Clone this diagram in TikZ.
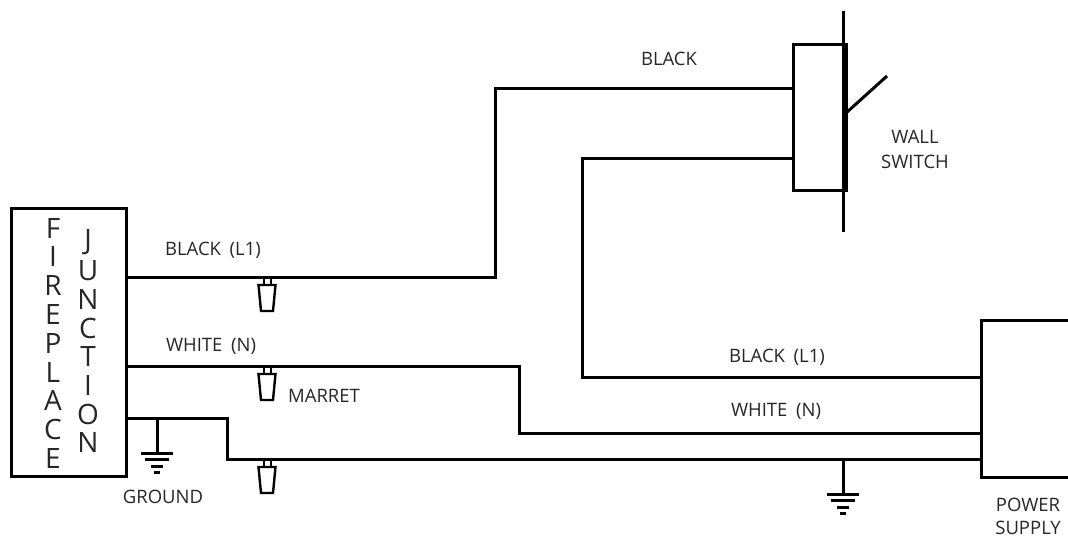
\documentclass[tikz,border=0pt]{standalone}
\usepackage{fontspec}
\setmainfont[WordSpace=1.8]{Open Sans}
\tikzset{
  wire/.style={line width=3pt, line join=miter},
  lbl/.style={inner sep=0pt, font=\fontsize{18.5}{18.5}\selectfont, text=black!85},
  bigletter/.style={inner sep=0pt, font=\fontsize{28}{28}\selectfont, text=black!85},
  marret/.pic={
    \draw[line width=2pt] (-3.5,0)--(-3.5,8) (3.5,0)--(3.5,8);
    \draw[line width=2.4pt] (-8.5,8)--(8.5,8)--(6,34)--(-6,34)--cycle;
  },
  groundmark/.pic={
    \draw[line width=3pt] (-16,0)--(16,0);
    \draw[line width=3pt] (-12,6)--(12,6);
    \draw[line width=3pt] (-6,13)--(6,13);
    \draw[line width=3pt] (-3,19)--(3,19);
  }
}
\begin{document}
\begin{tikzpicture}[x=1pt,y=-1pt]
\useasboundingbox (0,0) rectangle (1068,539);

% boxes
\coordinate (F1) at (11,208);
\coordinate (F2) at (126,476);
\draw[wire] (F1) rectangle (F2);
\coordinate (S1) at (793,44);
\coordinate (S2) at (846,190);
\draw[wire] (S1) rectangle (S2);
\coordinate (P1) at (1068,320);
\coordinate (P2) at (981,320);
\coordinate (P3) at (981,477);
\coordinate (P4) at (1068,477);
\draw[wire] (P1)--(P2)--(P3)--(P4);

% wall switch
\coordinate (T1) at (843,11);
\coordinate (T2) at (843,232);
\coordinate (A1) at (846,113);
\coordinate (A2) at (887,76);
\draw[wire] (T1)--(T2);
\draw[wire] (A1)--(A2);

% black wire to switch
\coordinate (B1) at (126,277);
\coordinate (B2) at (495,277);
\coordinate (B3) at (495,88);
\coordinate (B4) at (793,88);
\draw[wire] (B1)--(B2)--(B3)--(B4);

% switch to supply
\coordinate (L1) at (793,158);
\coordinate (L2) at (582,158);
\coordinate (L3) at (582,377);
\coordinate (L4) at (983,377);
\draw[wire] (L1)--(L2)--(L3)--(L4);

% white wire
\coordinate (W1) at (126,366);
\coordinate (W2) at (519,366);
\coordinate (W3) at (519,433);
\coordinate (W4) at (981,433);
\draw[wire] (W1)--(W2)--(W3)--(W4);

% ground wire
\coordinate (G1) at (126,418);
\coordinate (G2) at (227,418);
\coordinate (G3) at (227,459);
\coordinate (G4) at (981,459);
\draw[wire] (G1)--(G2)--(G3)--(G4);

% ground symbols
\coordinate (E1) at (157,418);
\coordinate (E2) at (157,453);
\draw[wire] (E1)--(E2);
\pic at (E2) {groundmark};
\coordinate (E3) at (843,459);
\coordinate (E4) at (843,494);
\draw[wire] (E3)--(E4);
\pic at (E4) {groundmark};

% marrets
\pic at (267,277) {marret};
\pic at (267,366) {marret};
\pic at (267,459) {marret};

% letters
\foreach \c [count=\i] in {F,I,R,E,P,L,A,C,E}
  \node[bigletter, name=fire\i] at (53,{228+28.8*(\i-1)}) {\c};
\foreach \c [count=\i] in {J,U,N,C,T,I,O,N}
  \node[bigletter, name=junc\i] at (88,{242+28.7*(\i-1)}) {\c};

% labels
\node[lbl] (lblack) at (669,59) {BLACK};
\node[lbl] (lwall) at (915,137) {WALL};
\node[lbl] (lswitch) at (915,162) {SWITCH};
\node[lbl] (lfire) at (213,250) {BLACK (L1)};
\node[lbl] (lwhite) at (211,346) {WHITE (N)};
\node[lbl] (lmarret) at (324,396) {MARRET};
\node[lbl] (lground) at (163,497) {GROUND};
\node[lbl] (lsupply) at (777,357) {BLACK (L1)};
\node[lbl] (lneutral) at (776,411) {WHITE (N)};
\node[lbl] (lpower) at (1028,505) {POWER};
\node[lbl] (lsup) at (1028,528) {SUPPLY};
\end{tikzpicture}
\end{document}
